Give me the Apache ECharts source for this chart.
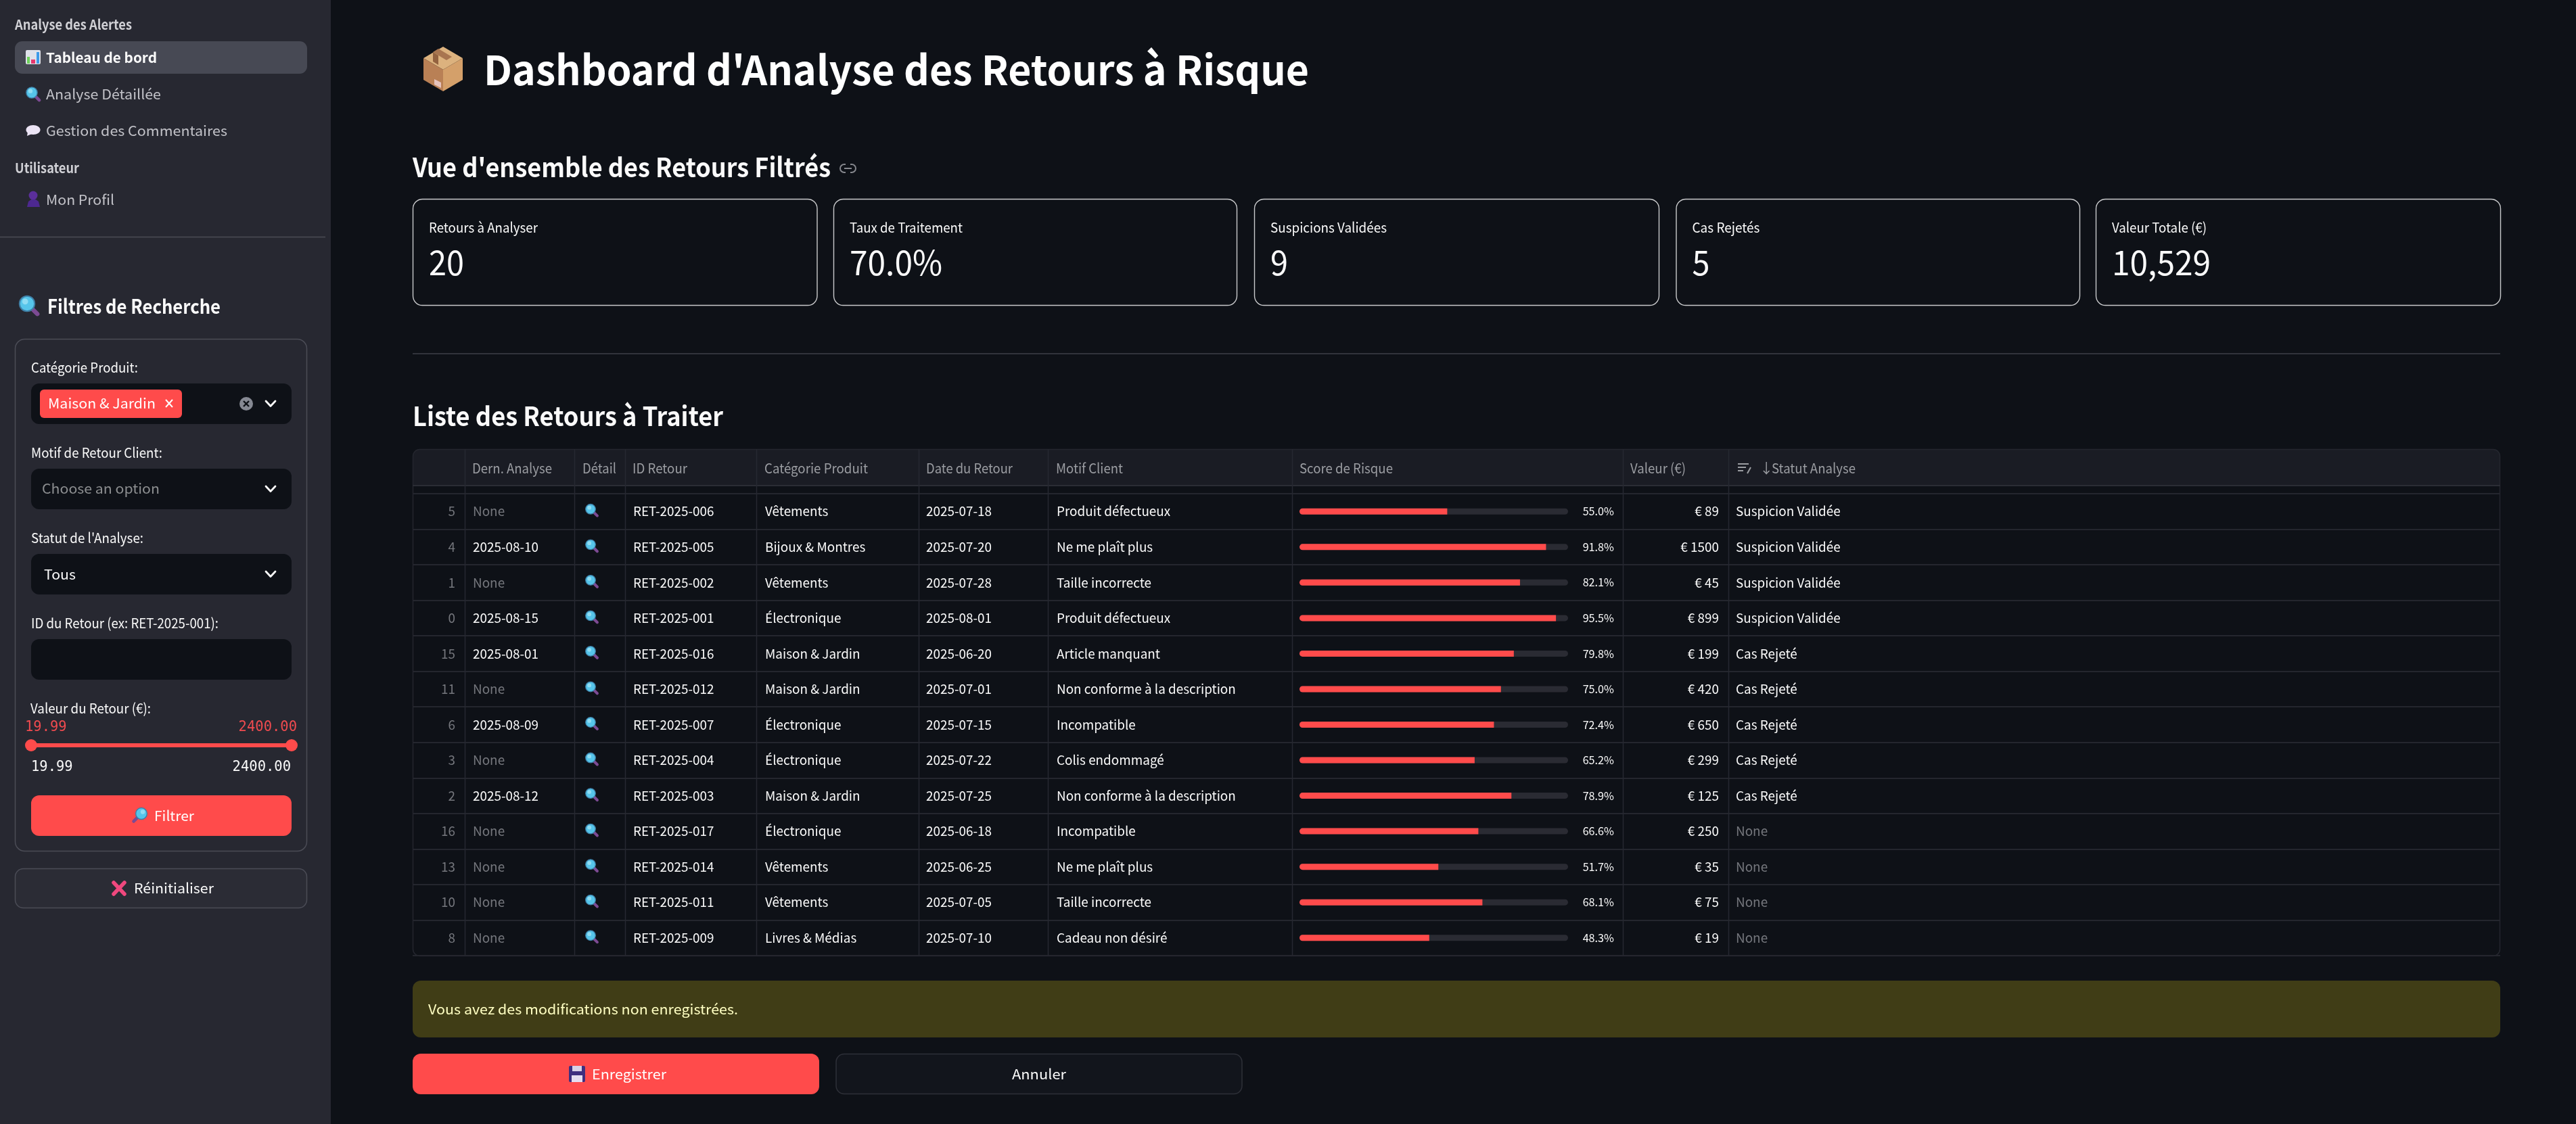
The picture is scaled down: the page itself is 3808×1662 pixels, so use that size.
<!DOCTYPE html>
<html><head><meta charset="utf-8">
<script src="https://cdn.jsdelivr.net/npm/echarts@6/dist/echarts.min.js"></script>
<style>html,body{margin:0;padding:0;background:#0e1117;overflow:hidden}#c{width:3808px;height:1662px}</style>
</head><body><div id="c"></div>
<script>
const rowIndex=['5','4','1','0','15','11','6','3','2','16','13','10','8'];
const lastAnalysis=['None','2025-08-10','None','2025-08-15','2025-08-01','None','2025-08-09','None','2025-08-12','None','None','None','None'];
const returnIds=['RET-2025-006','RET-2025-005','RET-2025-002','RET-2025-001','RET-2025-016','RET-2025-012','RET-2025-007','RET-2025-004','RET-2025-003','RET-2025-017','RET-2025-014','RET-2025-011','RET-2025-009'];
const categories=['Vêtements','Bijoux & Montres','Vêtements','Électronique','Maison & Jardin','Maison & Jardin','Électronique','Électronique','Maison & Jardin','Électronique','Vêtements','Vêtements','Livres & Médias'];
const returnDates=['2025-07-18','2025-07-20','2025-07-28','2025-08-01','2025-06-20','2025-07-01','2025-07-15','2025-07-22','2025-07-25','2025-06-18','2025-06-25','2025-07-05','2025-07-10'];
const motifs=['Produit défectueux','Ne me plaît plus','Taille incorrecte','Produit défectueux','Article manquant','Non conforme à la description','Incompatible','Colis endommagé','Non conforme à la description','Incompatible','Ne me plaît plus','Taille incorrecte','Cadeau non désiré'];
const riskScores=[55.0,91.8,82.1,95.5,79.8,75.0,72.4,65.2,78.9,66.6,51.7,68.1,48.3];
const returnValues=[89,1500,45,899,199,420,650,299,125,250,35,75,19];
const statuses=['Suspicion Validée','Suspicion Validée','Suspicion Validée','Suspicion Validée','Cas Rejeté','Cas Rejeté','Cas Rejeté','Cas Rejeté','Cas Rejeté','None','None','None','None'];
const metricLabels=['Retours à Analyser','Taux de Traitement','Suspicions Validées','Cas Rejetés','Valeur Totale (€)'];
const metricLabelWidths=[161,167,172,100,140];
const metricValues=['20','70.0%','9','5','10,529'];
const metricValueWidths=[52,137,26,26,146];
const headerLabels=['Dern. Analyse','Détail','ID Retour','Catégorie Produit','Date du Retour','Motif Client','Score de Risque','Valeur (€)','Statut Analyse'];
const headerWidths=[118,50,81,153,128,99,138,82,124];

const FF='"Noto Sans CJK SC","Noto Sans",sans-serif', MONO='"DejaVu Sans Mono",monospace';
const RED='#ff4b4b', BORDER='#4b4c56', LINE='#24262e', WHITE='#fafafa', DIM='#75777d';
const BODY=18.9, CH=20.4;
const g=[];
const mctx=document.createElement('canvas').getContext('2d');
function T(text,x,y,size,o){o=o||{};
 const weight=o.weight||400,font=o.font||FF;let sx=1;
 if(o.w){mctx.font=weight+' '+size+'px '+font;sx=o.w/mctx.measureText(text).width;}
 g.push({type:'text',z:o.z||5,silent:true,x,y,scaleX:sx,scaleY:1,style:{text,x:0,y:0,fill:o.color||WHITE,fontSize:size,fontFamily:font,fontWeight:weight,textAlign:o.align||'left',textVerticalAlign:'middle'}});}
function R(x,y,w,h,r,fill,stroke,lw,z){g.push({type:'rect',z:z||1,silent:true,shape:{x,y,width:w,height:h,r},style:{fill:fill||'transparent',stroke:stroke||null,lineWidth:lw||0}});}
function L(x1,y1,x2,y2,color,lw,z,cap){g.push({type:'line',z:z||2,silent:true,shape:{x1,y1,x2,y2},style:{stroke:color,lineWidth:lw||1,lineCap:cap||'butt'}});}
function C(cx,cy,r,fill,z,stroke,lw){g.push({type:'circle',z:z||3,silent:true,shape:{cx,cy,r},style:{fill,stroke:stroke||null,lineWidth:lw||0}});}
function P(points,fill,z){g.push({type:'polygon',z:z||3,silent:true,shape:{points},style:{fill}});}
function PL(points,color,lw,z){g.push({type:'polyline',z:z||3,silent:true,shape:{points},style:{stroke:color,lineWidth:lw,fill:'transparent',lineCap:'round',lineJoin:'round'}});}
function lensEls(cx,cy,s,flip){const d=flip?-1:1;return [
 {type:'line',shape:{x1:cx+d*3.2*s,y1:cy+3.2*s,x2:cx+d*7.6*s,y2:cy+7.6*s},style:{stroke:'#7c4a93',lineWidth:3.2*s,lineCap:'round'}},
 {type:'circle',shape:{cx:cx,cy:cy,r:5.6*s},style:{fill:'#56c5ea',stroke:'#3f7fa6',lineWidth:1*s}},
 {type:'circle',shape:{cx:cx-d*1.4*s,cy:cy-1.6*s,r:2.2*s},style:{fill:'#8fdcf3'}}];}
function lens(cx,cy,s,flip){lensEls(cx,cy,s,flip).forEach(e=>{e.z=4;e.silent=true;g.push(e);});}
function chevron(cx,cy){PL([[cx-7,cy-4],[cx,cy+3.5],[cx+7,cy-4]],WHITE,2.8);}

// page panes
R(0,0,489,1662,0,'#272831',null,0,0);
// sidebar nav
T('Analyse des Alertes',22,36,CH,{weight:600,color:'#d0d0d5',w:173});
R(22,61,432,48,11,'#474954');
// bar chart icon
R(38,74,22,21,2,'#dfe2ea');
R(40,84,4,10,0,'#6fd35c',null,0,3);R(46,88,6,6,0,'#e8386f',null,0,3);R(54,77,4,17,0,'#3d9be9',null,0,3);
T('Tableau de bord',68,85,CH,{weight:700,w:164});
lens(47,137,1.45,false);
T('Analyse Détaillée',68,139,CH,{color:'#c2c2c8',w:170});
g.push({type:'ellipse',z:3,silent:true,shape:{cx:49,cy:192,rx:10.5,ry:7},style:{fill:'#ece4f5'}});
P([[41,195],[47,198],[40,201]],'#ece4f5');
T('Gestion des Commentaires',68,193,CH,{color:'#c2c2c8',w:268});
T('Utilisateur',22,248,CH,{weight:600,color:'#d0d0d5',w:95});
C(49,289,6.5,'#5b2f9b');
P([[40,306],[42,298],[46,295],[53,295],[57,298],[59,306]],'#4d2890');
T('Mon Profil',68,295,CH,{color:'#c2c2c8',w:101});
L(0,350.5,481,350.5,BORDER,1.5);
lens(40,449,2,false);
T('Filtres de Recherche',70,453,29,{weight:600,w:256});

// filter form
R(22.5,501.5,431,757,14,'#272831',BORDER,1.5);
const SEL='#0e1117';
T('Catégorie Produit:',46,543,CH,{w:158});
R(46,567,385,60,12,SEL);
R(59,576,210,42,6,RED,null,0,2);
T('Maison & Jardin',71,596,CH,{color:'#fff',w:159});
L(245,591,255,602,'#fff',2,3);L(255,591,245,602,'#fff',2,3);
C(364,597,10,'#868993');
L(360,593,368,601,SEL,2.4,4);L(368,593,360,601,SEL,2.4,4);
chevron(400,597);
T('Motif de Retour Client:',46,669,CH,{w:194});
R(46,693,385,60,12,SEL);
T('Choose an option',62,722,CH,{color:'#8c8e90',w:174});
chevron(400,723);
T("Statut de l'Analyse:",46,795,CH,{w:166});
R(46,819,385,60,12,SEL);
T('Tous',65,849,CH,{w:47});
chevron(400,849);
T('ID du Retour (ex: RET-2025-001):',46,921,CH,{w:277});
R(46,945,385,60,12,SEL);
T('Valeur du Retour (€):',45,1047,CH,{w:178});
T('19.99',37,1076,20.5,{font:MONO,color:'#f04b4f'});
T('2400.00',439,1076,20.5,{font:MONO,color:'#f04b4f',align:'right'});
R(46,1099,385,6,3,RED);
C(46,1102,9,RED);C(431,1102,9,RED);
T('19.99',46,1135,20.5,{font:MONO});
T('2400.00',430,1135,20.5,{font:MONO,align:'right'});
R(46,1176,385,60,12,RED);
lens(209,1203,1.5,true);
T('Filtrer',228,1206,CH,{color:'#fff',w:59});
R(22.5,1284.5,431,58,12,'#2b2c35',BORDER,1.5);
L(168,1305,184,1322,'#f0487e',5.5,3,'round');L(184,1305,168,1322,'#f0487e',5.5,3,'round');
T('Réinitialiser',198,1313,CH,{w:118});

// main header
P([[655,69],[684,86],[655,103],[626,86]],'#dcb27e');
P([[626,86],[655,103],[655,135],[626,118]],'#b98055');
P([[655,103],[684,86],[684,118],[655,135]],'#d4a06a');
P([[640,77],[648,72],[668,84],[660,89]],'#a87550',4);
P([[640,77],[648,82],[648,96],[640,91]],'#93623f',4);
P([[642,117],[652,122],[652,130],[642,125]],'#e5c3bd',4);
T("Dashboard d'Analyse des Retours à Risque",715,103,60,{weight:700,color:'#fff',w:1220});
T("Vue d'ensemble des Retours Filtrés",610,247,39,{weight:600,w:618});
R(1242,243,23,12,6,null,'#85878d',2);
R(1250,240,7,18,0,'#0e1117',null,0,3);
L(1248,249,1259,249,'#85878d',2,4);

// metric cards
const cardEdges=[[610,1207.5],[1232,1828],[1854,2452],[2477.5,3074],[3098,3696]];
cardEdges.forEach((e,i)=>{
 R(e[0]+.5,294.5,e[1]-e[0],157,14,null,'#c9cacc',1.4);
 T(metricLabels[i],e[0]+24,336,CH,{w:metricLabelWidths[i]});
 T(metricValues[i],e[0]+24,388,50,{w:metricValueWidths[i]});
});
L(610,523,3696,523,'#31333b',2);
T('Liste des Retours à Traiter',610,615,39,{weight:600,w:459});

// table frame
const tableTop=664, tableBottom=1413, headerBottom=718, firstRowTop=730;
R(610,tableTop,3086,headerBottom-tableTop,10,'#1a1c24');
R(610,tableTop+12,3086,headerBottom-tableTop-12,0,'#1a1c24');
R(610.5,tableTop+.5,3085,tableBottom-tableTop,10,null,LINE,1.5,3);
L(610,headerBottom,3696,headerBottom,'#2b2d35',2.2,3);
const columnLines=[687,849,924,1118,1358,1549,1910,2399,2555];
columnLines.forEach(x=>L(x+.5,tableTop,x+.5,tableBottom,'#262831',1.5,3));
const headerX=[698,861,935,1130,1369,1561,1921,2410,2619];
headerLabels.forEach((t,i)=>T(t,headerX[i],692,CH,{color:'#9b9da2',w:headerWidths[i]}));
L(2569,686,2585,686,'#9b9da2',2,4);L(2569,691,2581,691,'#9b9da2',2,4);L(2569,696,2577,696,'#9b9da2',2,4);
L(2583,700,2588,691,'#9b9da2',2,4);
T('↓',2601,692,CH,{color:'#9b9da2'});

// table columns drawn through the row axis
const tableColumns=[
 {x:699,values:lastAnalysis},
 {x:936,values:returnIds},
 {x:1131,values:categories},
 {x:1369,values:returnDates},
 {x:1562,values:motifs},
 {x:2386,values:riskScores.map(v=>v.toFixed(1)+'%'),align:'right',size:16.2},
 {x:2541,values:returnValues.map(v=>'€ '+v),align:'right'},
 {x:2566,values:statuses}
];
const textSeries=tableColumns.map(col=>({
 type:'custom',xAxisIndex:0,yAxisIndex:0,z:6,silent:true,
 encode:{x:0,y:1},
 data:col.values.map((v,i)=>[col.x,i]),
 renderItem(params,api){
  const p=api.coord([api.value(0),api.value(1)]);
  const v=col.values[params.dataIndex];
  return {type:'text',x:p[0],y:p[1],style:{text:v,fill:v==='None'?DIM:WHITE,fontSize:col.size||BODY,fontFamily:FF,align:col.align||'left',verticalAlign:'middle'}};
 }
}));
const iconSeries={type:'custom',xAxisIndex:0,yAxisIndex:0,z:6,silent:true,encode:{x:0,y:1},
 data:rowIndex.map((v,i)=>[873,i]),
 renderItem(params,api){
  const p=api.coord([api.value(0),api.value(1)]);
  return {type:'group',children:lensEls(p[0],p[1]-3.5,1.3,false)};
 }};

const option={
 animation:false,backgroundColor:'#0e1117',aria:{enabled:false},
 graphic:{elements:g},
 grid:[
  {left:610,width:3086,top:firstRowTop,height:tableBottom-firstRowTop,containLabel:false},
  {left:1921,width:397,top:firstRowTop,height:tableBottom-firstRowTop,containLabel:false}
 ],
 xAxis:[
  {gridIndex:0,type:'value',min:610,max:3696,show:false},
  {gridIndex:1,type:'value',min:0,max:100,show:false}
 ],
 yAxis:[
  {gridIndex:0,type:'category',inverse:true,data:rowIndex,
   axisLine:{show:false},axisTick:{show:false},
   axisLabel:{inside:true,align:'right',margin:63,color:DIM,fontSize:BODY,fontFamily:FF},
   splitLine:{show:true,lineStyle:{color:LINE,width:1.8}}},
  {gridIndex:1,type:'category',inverse:true,data:rowIndex,show:false}
 ],
 series:[
  {type:'bar',xAxisIndex:1,yAxisIndex:1,data:riskScores,barWidth:9,z:5,silent:true,
   showBackground:true,backgroundStyle:{color:'#2a2b33',borderRadius:4.5},
   itemStyle:{color:RED,borderRadius:[4.5,0,0,4.5]}},
  iconSeries,
  ...textSeries
 ]
};
// warning & buttons
R(610,1450,3086,84,12,'#403d16');
T('Vous avez des modifications non enregistrées.',633,1492,CH,{color:'#ffffc2',w:458});
R(610,1558,601,60,12,RED);
R(841,1576,24,24,2,'#3f2f7f');R(846,1576,14,8,0,'#d8d2e6',null,0,3);R(845,1590,16,10,0,'#e5def0',null,0,3);
T('Enregistrer',875,1588,CH,{color:'#fff',w:110});
R(1236,1558.5,600,59,12,'#12151c','#2e3038',1.5);
T('Annuler',1536,1588,CH,{align:'center',w:80});

const chart=echarts.init(document.getElementById('c'),null,{renderer:'canvas',width:3808,height:1662,devicePixelRatio:1});
chart.setOption(option);
</script></body></html>
